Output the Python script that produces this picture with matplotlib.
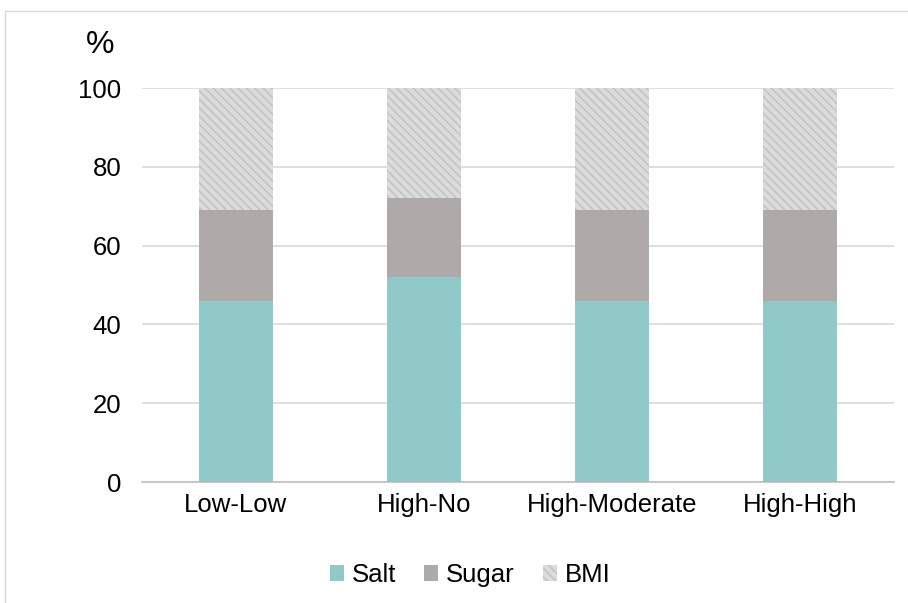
import numpy as np
import matplotlib.pyplot as plt
from matplotlib.patches import Rectangle

plt.rcParams['font.family'] = ['Liberation Sans', 'DejaVu Sans']
plt.rcParams['hatch.color'] = '#bdbdbd'
plt.rcParams['hatch.linewidth'] = 1.2

# data
categories = ['Low-Low', 'High-No', 'High-Moderate', 'High-High']
salt = [46, 52, 46, 46]
sugar = [23, 20, 23, 23]
bmi = [31, 28, 31, 31]

fig = plt.figure(figsize=(9.08, 6.03), dpi=100)
ax = fig.add_axes([142/908, 1-482/603, (894-142)/908, (482-88)/603])

# outer chart border (cut off at right/bottom)
fig.patches.append(Rectangle((5/908, -0.1), 1.1, 1-11/603+0.1, transform=fig.transFigure,
                             fill=False, edgecolor='#d9d9d9', linewidth=1))

x = np.arange(len(categories))
w = 0.39
ax.bar(x, salt, w, color='#8fcac8', label='Salt', zorder=3)
ax.bar(x, sugar, w, bottom=salt, color='#aeaaaa', label='Sugar', zorder=3)
bot = np.array(salt) + np.array(sugar)
ax.bar(x, bmi, w, bottom=bot, color='#dcdcdc', hatch='\\\\\\\\', edgecolor='#c4c4c4',
       linewidth=0, label='BMI', zorder=3)

ax.set_xlim(-0.5, len(categories) - 0.5)
ax.set_ylim(0, 100)
ax.set_yticks(range(0, 101, 20))
ax.set_xticks(x)
ax.set_xticklabels(categories)
ax.yaxis.grid(True, color='#d9d9d9', linewidth=1.2, zorder=0)
for s in ['top', 'right', 'left']:
    ax.spines[s].set_visible(False)
ax.spines['bottom'].set_color('#bfbfbf')
ax.spines['bottom'].set_linewidth(1.2)
ax.tick_params(length=0, labelsize=18.5, colors='black')
ax.tick_params(axis='y', pad=15)
ax.tick_params(axis='x', pad=8)

fig.text(100/908, 1-45/603, '%', fontsize=23, ha='center', va='center')

ax.legend(loc='center', bbox_to_anchor=(470/908, 1-575/603), bbox_transform=fig.transFigure,
          ncol=3, frameon=False, fontsize=18.5, handlelength=0.55, handleheight=0.55,
          handletextpad=0.3, columnspacing=1.1)

fig.savefig('out.png', dpi=100)
